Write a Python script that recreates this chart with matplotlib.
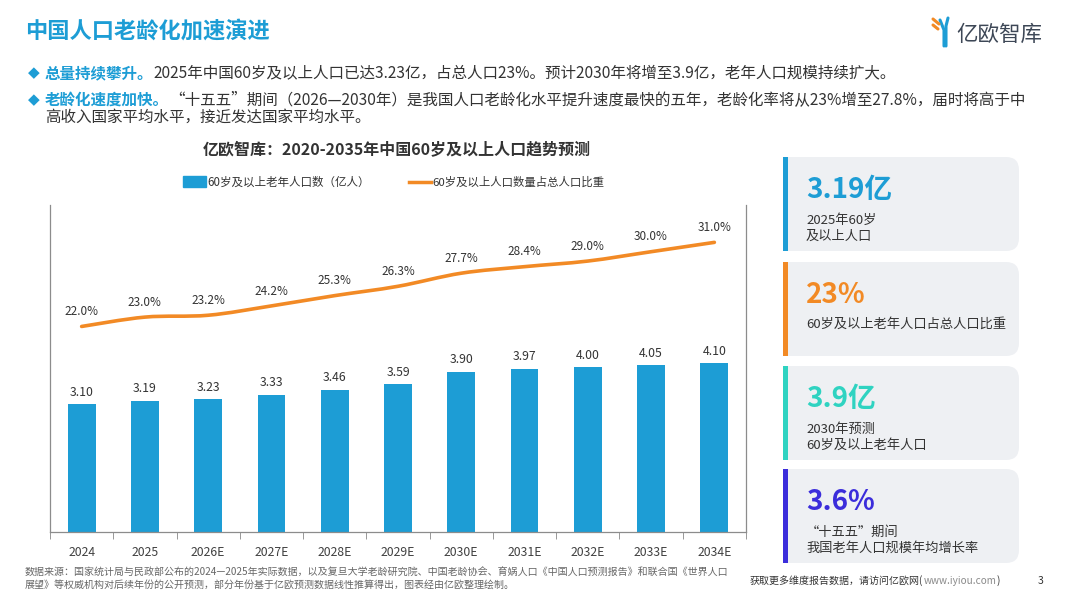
import matplotlib
matplotlib.use("Agg")
import matplotlib.pyplot as plt
from matplotlib.patches import FancyBboxPatch, Rectangle
from matplotlib.path import Path
from matplotlib.patches import PathPatch
import numpy as np

plt.rcParams['font.family'] = ['Noto Sans CJK SC', 'DejaVu Sans']

# ---------------- data ----------------
years = ['2024', '2025', '2026E', '2027E', '2028E', '2029E', '2030E', '2031E', '2032E', '2033E', '2034E']
pop = [3.10, 3.19, 3.23, 3.33, 3.46, 3.59, 3.90, 3.97, 4.00, 4.05, 4.10]
ratio = [22.0, 23.0, 23.2, 24.2, 25.3, 26.3, 27.7, 28.4, 29.0, 30.0, 31.0]

title = '中国人口老龄化加速演进'
chart_title = '亿欧智库：2020-2035年中国60岁及以上人口趋势预测'
legend_bar = '60岁及以上老年人口数（亿人）'
legend_line = '60岁及以上人口数量占总人口比重'
bullet1_head = '总量持续攀升。'
bullet1_body = '2025年中国60岁及以上人口已达3.23亿，占总人口23%。预计2030年将增至3.9亿，老年人口规模持续扩大。'
bullet2_head = '老龄化速度加快。'
bullet2_body = '“十五五”期间（2026—2030年）是我国人口老龄化水平提升速度最快的五年，老龄化率将从23%增至27.8%，届时将高于中'
bullet2_body2 = '高收入国家平均水平，接近发达国家平均水平。'
card_values = ['3.19亿', '23%', '3.9亿', '3.6%']
card_texts = [['2025年60岁', '及以上人口'], ['60岁及以上老年人口占总人口比重'],
              ['2030年预测', '60岁及以上老年人口'], ['“十五五”期间', '我国老年人口规模年均增长率']]
source1 = '数据来源：国家统计局与民政部公布的2024—2025年实际数据，以及复旦大学老龄研究院、中国老龄协会、育娲人口《中国人口预测报告》和联合国《世界人口'
source2 = '展望》等权威机构对后续年份的公开预测，部分年份基于亿欧预测数据线性推算得出，图表经由亿欧整理绘制。'
footer = '获取更多维度报告数据，请访问亿欧网('
footer_url = 'www.iyiou.com'
page_no = '3'

BLUE = '#1d9dd5'
ORANGE = '#f28a25'
TEAL = '#2fd3c1'
PURPLE = '#3b2ddb'
DARK = '#333333'
card_colors = [BLUE, ORANGE, TEAL, PURPLE]

W, H = 1067, 600
fig = plt.figure(figsize=(W / 100, H / 100), dpi=100)
fig.patch.set_facecolor('white')

# overlay axes in pixel coordinates
bg = fig.add_axes([0, 0, 1, 1], zorder=0)
bg.set_xlim(0, W)
bg.set_ylim(H, 0)
bg.axis('off')

# ---------------- header ----------------
bg.text(25, 31, title, fontsize=16, fontweight='bold', color=BLUE, va='center', ha='left')

# logo
bg.plot([940, 944, 944], [20, 30, 46], color=BLUE, lw=2.2, solid_capstyle='round')
bg.plot([948, 946, 946], [18, 26, 46], color=BLUE, lw=2.2, solid_capstyle='round')
bg.plot([933, 939], [19, 24], color=ORANGE, lw=2.2, solid_capstyle='round')
bg.plot([933, 938], [25, 29], color=ORANGE, lw=2.2, solid_capstyle='round')
bg.text(956, 35, '亿欧智库', fontsize=15.5, color='#3d4756', va='center', ha='left')

fig.canvas.draw()
renderer = fig.canvas.get_renderer()


def flow(x, y, parts, size):
    """Draw consecutive text runs; parts = list of (text, color, weight)."""
    for txt, col, wt in parts:
        t = bg.text(x, y, txt, fontsize=size, color=col, fontweight=wt, va='center', ha='left')
        ext = t.get_window_extent(renderer=renderer)
        x = x + ext.width
    return x


bg.text(28, 73, '◆', fontsize=11, color=BLUE, va='center', ha='left', family='DejaVu Sans')
flow(45, 73, [(bullet1_head, BLUE, 'bold'), (bullet1_body, DARK, 'normal')], 11.2)
bg.text(28, 100, '◆', fontsize=11, color=BLUE, va='center', ha='left', family='DejaVu Sans')
flow(45, 100, [(bullet2_head, BLUE, 'bold'), (bullet2_body, DARK, 'normal')], 11.2)
bg.text(45, 117, bullet2_body2, fontsize=11.2, color=DARK, va='center', ha='left')

# chart title & legend
bg.text(397, 150, chart_title, fontsize=11.5, fontweight='bold', color=DARK, va='center', ha='center')
bg.add_patch(Rectangle((183, 176), 23, 11, color=BLUE))
bg.text(207, 182, legend_bar, fontsize=8.3, color=DARK, va='center', ha='left')
bg.plot([409, 431], [182, 182], color=ORANGE, lw=2.5)
bg.text(432, 182, legend_line, fontsize=8.2, color=DARK, va='center', ha='left')

# ---------------- cards ----------------
card_tops = [157, 262, 366, 469]
card_h = 94
for i, top in enumerate(card_tops):
    bg.add_patch(FancyBboxPatch((788, top), 1019 - 788, card_h,
                                boxstyle='round,pad=0,rounding_size=13',
                                fc='#eef0f3', ec='none'))
    bg.add_patch(Rectangle((788, top), 20, card_h, fc='#eef0f3', ec='none'))
    bg.add_patch(Rectangle((783, top), 5, card_h, fc=card_colors[i], ec='none'))
    lines = card_texts[i]
    bg.text(806, top + 33, card_values[i], fontsize=20, fontweight='bold', color=card_colors[i],
            va='center', ha='left')
    if len(lines) == 2:
        bg.text(806, top + 63, lines[0], fontsize=9.5, color=DARK, va='center', ha='left')
        bg.text(806, top + 79, lines[1], fontsize=9.5, color=DARK, va='center', ha='left')
    else:
        bg.text(806, top + 62, lines[0], fontsize=9.5, color=DARK, va='center', ha='left')

# ---------------- footer ----------------
bg.text(25, 572, source1, fontsize=7.2, color='#666666', va='center', ha='left')
bg.text(25, 585, source2, fontsize=7.2, color='#666666', va='center', ha='left')
flow(750, 581, [(footer, DARK, 'normal'), (footer_url, '#8a8a8a', 'normal'), (')', DARK, 'normal')], 7.2)
bg.text(1041, 581, page_no, fontsize=7.5, color=DARK, va='center', ha='center')

# ---------------- chart ----------------
ax = fig.add_axes([50 / W, 1 - 532 / H, 696 / W, 327 / H], zorder=2)
ax.patch.set_alpha(0)
x = np.arange(len(years))
ax.bar(x, pop, width=0.44, color=BLUE, zorder=2)
ax.set_xlim(-0.5, len(years) - 0.5)
ax.set_ylim(0, 7.95)
for xi, v in zip(x, pop):
    ax.annotate(f'{v:.2f}', (xi, v), xytext=(0, 4), textcoords='offset points',
                ha='center', va='bottom', fontsize=8.8, color=DARK)
ax.set_xticks(x)
ax.set_xticklabels(years, fontsize=8.8, color='#404040')
ax.tick_params(axis='x', which='major', length=0, pad=10)
ax.set_xticks(np.arange(-0.5, len(years), 1.0), minor=True)
ax.tick_params(axis='x', which='minor', length=5, color='#888888', direction='out')
ax.set_yticks([])
ax.spines['top'].set_visible(False)
for s in ['left', 'right', 'bottom']:
    ax.spines[s].set_color('#8c8c8c')
    ax.spines[s].set_linewidth(0.9)

ax2 = ax.twinx()
ax2.set_ylim(0, 35)
ax2.set_yticks([])
for s in ['top', 'left', 'right', 'bottom']:
    ax2.spines[s].set_visible(False)

# smooth line (Catmull-Rom -> cubic Bezier) through the data points
px = list(x.astype(float))
py = list(ratio)
verts = [(px[0], py[0])]
codes = [Path.MOVETO]
n = len(px)
for i in range(n - 1):
    p0 = (px[max(i - 1, 0)], py[max(i - 1, 0)])
    p1 = (px[i], py[i])
    p2 = (px[i + 1], py[i + 1])
    p3 = (px[min(i + 2, n - 1)], py[min(i + 2, n - 1)])
    c1 = (p1[0] + (p2[0] - p0[0]) / 6, p1[1] + (p2[1] - p0[1]) / 6)
    c2 = (p2[0] - (p3[0] - p1[0]) / 6, p2[1] - (p3[1] - p1[1]) / 6)
    verts += [c1, c2, p2]
    codes += [Path.CURVE4] * 3
ax2.add_patch(PathPatch(Path(verts, codes), fc='none', ec=ORANGE, lw=2.6, capstyle='round', zorder=3))
for xi, v in zip(x, ratio):
    ax2.annotate(f'{v:.1f}%', (xi, v), xytext=(0, 6), textcoords='offset points',
                 ha='center', va='bottom', fontsize=8.5, color=DARK)

fig.savefig('out.png', dpi=100, facecolor='white')
